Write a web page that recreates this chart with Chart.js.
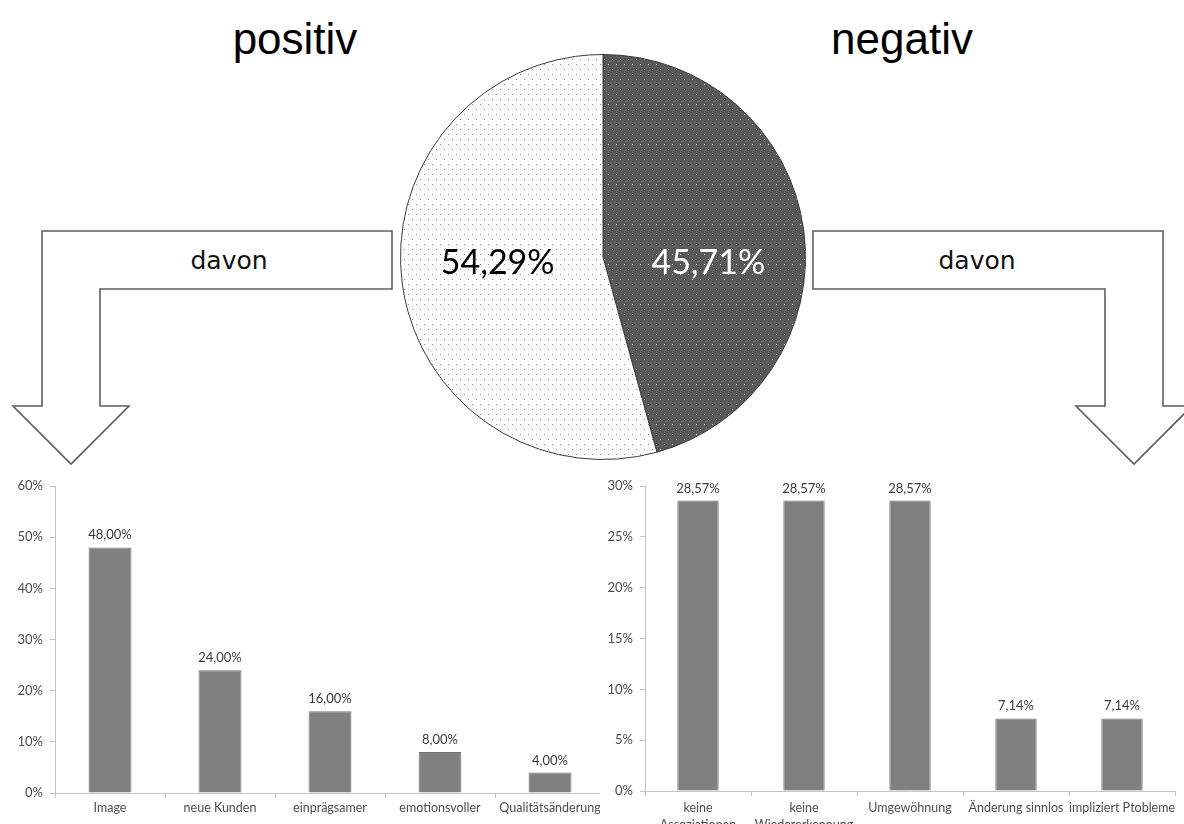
<!DOCTYPE html>
<html lang="de">
<head>
<meta charset="utf-8">
<title>Bewertung der Namensänderung</title>
<script src="https://cdn.jsdelivr.net/npm/chart.js@4.4.1/dist/chart.umd.min.js"></script>
<style>
  html, body { margin: 0; padding: 0; background: #ffffff; }
  body { width: 1184px; height: 824px; position: relative; overflow: hidden; }
  #deco { position: absolute; left: 0; top: 0; }
  #pieBox { position: absolute; left: 398px; top: 52px; width: 410px; height: 410px; }
  #leftBox { position: absolute; left: 0; top: 470px; width: 602px; height: 354px; overflow: hidden; }
  #rightBox { position: absolute; left: 600px; top: 470px; width: 584px; height: 354px; overflow: hidden; background: #ffffff; }
</style>
</head>
<body>
<svg id="deco" width="1184" height="824" xmlns="http://www.w3.org/2000/svg">
  <text x="295" y="54" font-family="Liberation Sans, Arial, sans-serif" font-size="44" text-anchor="middle" fill="#000">positiv</text>
  <text x="902" y="54" font-family="Liberation Sans, Arial, sans-serif" font-size="44" text-anchor="middle" fill="#000">negativ</text>
  <polygon points="392,231 42,231 42,406 13,406 71,464 129,406 100,406 100,289 392,289"
           fill="#ffffff" stroke="#5e5e5e" stroke-width="1.6" stroke-linejoin="miter"/>
  <polygon points="813,231 1163,231 1163,406 1192,406 1134,464 1076,406 1105,406 1105,289 813,289"
           fill="#ffffff" stroke="#5e5e5e" stroke-width="1.6" stroke-linejoin="miter"/>
  <text x="229" y="269" font-family="DejaVu Sans, Verdana, sans-serif" font-size="25" text-anchor="middle" fill="#111">davon</text>
  <text x="977" y="269" font-family="DejaVu Sans, Verdana, sans-serif" font-size="25" text-anchor="middle" fill="#111">davon</text>
</svg>

<div id="pieBox"><canvas id="pie" width="410" height="410"></canvas></div>
<div id="leftBox"><canvas id="left" width="620" height="354"></canvas></div>
<div id="rightBox"><canvas id="right" width="584" height="354"></canvas></div>

<script>
// Overall split of the answers
const pieLabels = ['negativ', 'positiv'];
const pieValues = [45.71, 54.29];

// Positive reasons ("davon")
const posCategories = ['Image', 'neue Kunden', 'einprägsamer', 'emotionsvoller', 'Qualitätsänderung'];
const posValues = [48.00, 24.00, 16.00, 8.00, 4.00];
const posTicks = [0, 10, 20, 30, 40, 50, 60];

// Negative reasons ("davon")
const negCategories = [['keine', 'Assoziationen'], ['keine', 'Wiedererkennung'], 'Umgewöhnung', 'Änderung sinnlos', 'impliziert Ptobleme'];
const negValues = [28.57, 28.57, 28.57, 7.14, 7.14];
const negTicks = [0, 5, 10, 15, 20, 25, 30];

const fmt = v => v.toFixed(2).replace('.', ',') + '%';

// Dotted fill patterns for the pie slices
function dotPattern(bg, dot) {
  const c = document.createElement('canvas');
  c.width = 8; c.height = 10;
  const g = c.getContext('2d');
  g.fillStyle = bg; g.fillRect(0, 0, 8, 10);
  g.fillStyle = dot;
  g.fillRect(2, 2, 1, 1);
  g.fillRect(6, 7, 1, 1);
  return g.createPattern(c, 'repeat');
}

// Percentage labels inside the pie slices
const pieLabelPlugin = {
  id: 'pieLabels',
  afterDatasetsDraw(chart) {
    const ctx = chart.ctx;
    const meta = chart.getDatasetMeta(0);
    const colors = ['#ffffff', '#000000'];
    ctx.save();
    ctx.font = '34px Lato, "Open Sans", sans-serif';
    ctx.textAlign = 'center';
    ctx.textBaseline = 'alphabetic';
    meta.data.forEach((arc, i) => {
      const mid = (arc.startAngle + arc.endAngle) / 2;
      const x = arc.x + Math.cos(mid) * arc.outerRadius * 0.525;
      const y = arc.y + 17;
      ctx.fillStyle = colors[i];
      ctx.fillText(fmt(chart.data.datasets[0].data[i]), x, y);
    });
    ctx.restore();
  }
};

// Value labels above the bars
const barLabelPlugin = {
  id: 'barLabels',
  afterDatasetsDraw(chart) {
    const ctx = chart.ctx;
    const meta = chart.getDatasetMeta(0);
    ctx.save();
    ctx.font = '13px Lato, "Open Sans", sans-serif';
    ctx.fillStyle = '#3a3a3a';
    ctx.textAlign = 'center';
    ctx.textBaseline = 'alphabetic';
    meta.data.forEach((bar, i) => {
      ctx.fillText(fmt(chart.data.datasets[0].data[i]), bar.x, bar.y - 8);
    });
    ctx.restore();
  }
};

new Chart(document.getElementById('pie'), {
  type: 'pie',
  data: {
    labels: pieLabels,
    datasets: [{
      data: pieValues,
      backgroundColor: [dotPattern('#595959', '#e6e6e6'), dotPattern('#ffffff', '#8a8a8a')],
      borderColor: '#3a3a3a',
      borderWidth: 1
    }]
  },
  options: {
    responsive: false,
    animation: false,
    layout: { padding: 2 },
    plugins: { legend: { display: false }, tooltip: { enabled: false } }
  },
  plugins: [pieLabelPlugin]
});

const axisGray = '#c4c4c4';
const yFont = { family: 'Lato, "Open Sans", sans-serif', size: 13 };
const xFont = { family: 'Lato, "Open Sans", sans-serif', size: 12.5, lineHeight: 1.4 };

function barChart(id, categories, values, ticks, yWidth, xHeight, padRight, xPad) {
  return new Chart(document.getElementById(id), {
    type: 'bar',
    data: {
      labels: categories,
      datasets: [{
        data: values,
        backgroundColor: '#808080',
        borderColor: '#767676',
        borderWidth: 1,
        barPercentage: 0.39,
        categoryPercentage: 1.0
      }]
    },
    options: {
      responsive: false,
      animation: false,
      layout: { padding: { top: 16, right: padRight, left: 0, bottom: 0 } },
      plugins: { legend: { display: false }, tooltip: { enabled: false } },
      scales: {
        x: {
          grid: { display: true, drawOnChartArea: false, drawTicks: true, tickLength: 5, color: axisGray, offset: true },
          border: { display: true, color: axisGray, width: 1 },
          ticks: { color: '#4d4d4d', font: xFont, maxRotation: 0, minRotation: 0, autoSkip: false, padding: xPad },
          afterFit: s => { s.height = xHeight; }
        },
        y: {
          min: ticks[0],
          max: ticks[ticks.length - 1],
          afterBuildTicks: s => { s.ticks = ticks.map(v => ({ value: v })); },
          grid: { display: true, drawOnChartArea: false, drawTicks: true, tickLength: 5, color: axisGray },
          border: { display: true, color: axisGray, width: 1 },
          ticks: { color: '#4d4d4d', font: yFont, padding: 7, callback: v => v + '%' },
          afterFit: s => { s.width = yWidth; }
        }
      }
    },
    plugins: [barLabelPlugin]
  });
}

barChart('left', posCategories, posValues, posTicks, 55, 31, 15, 1);
barChart('right', negCategories, negValues, negTicks, 45, 33, 9, 3);
</script>
</body>
</html>
